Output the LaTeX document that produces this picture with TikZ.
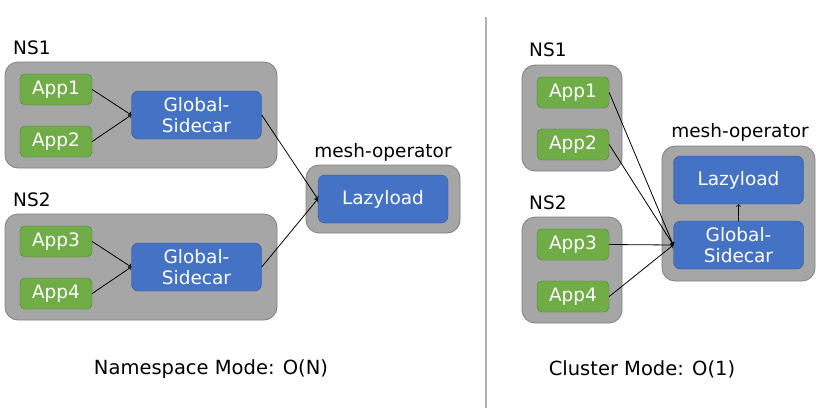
\documentclass[tikz,border=0pt]{standalone}
\usepackage{fontspec}
\setmainfont{DejaVu Sans}
\usepackage{xcolor}
\usetikzlibrary{positioning}
\definecolor{nsgray}{HTML}{A6A6A6}
\definecolor{nsedge}{HTML}{7F7F7F}
\definecolor{appgreen}{HTML}{70AD47}
\definecolor{appedge}{HTML}{507E32}
\definecolor{scblue}{HTML}{4472C4}
\definecolor{scedge}{HTML}{2F528F}
\tikzstyle{nsBox} = [rectangle, draw=nsedge, fill=nsgray, rounded corners=13pt, line width=0.8pt]
\tikzstyle{appNode} = [rectangle, draw=appedge, fill=appgreen, rounded corners=5pt, text=white, minimum width=72pt, minimum height=31pt, font=\fontsize{18.5}{21}\selectfont, inner sep=0pt]
\tikzstyle{blueNode} = [rectangle, draw=scedge, fill=scblue, rounded corners=7pt, text=white, minimum width=130pt, minimum height=48pt, font=\fontsize{18.5}{21}\selectfont, inner sep=0pt, align=center]
\tikzstyle{title} = [font=\fontsize{18.5}{21}\selectfont, inner sep=0pt]
\tikzstyle{link} = [->, line width=0.8pt]

\begin{document}
\begin{tikzpicture}[x=1pt,y=-1pt]
    \useasboundingbox (0,0) rectangle (821,413);
    % divider
    \draw[black!30, line width=1.2pt] (486,17) -- (486,408);

    % namespace mode
    \node (lns1) [nsBox, minimum width=272pt, minimum height=106pt] at (141,115) {};
    \node (lns2) [nsBox, minimum width=272pt, minimum height=106pt] at (141,267) {};
    \node (lmesh) [nsBox, minimum width=154pt, minimum height=68pt] at (383,199) {};
    \node [title, anchor=base west] at (13,54) {NS1};
    \node [title, anchor=base west] at (13,206) {NS2};
    \node [title, anchor=base] at (383,157) {mesh-operator};
    \node (lapp1) [appNode] at (56,89.5) {App1};
    \node (lapp2) [appNode] at (56,141.5) {App2};
    \node (lapp3) [appNode] at (56,241.5) {App3};
    \node (lapp4) [appNode] at (56,293.5) {App4};
    \node (lsc1) [blueNode] at (196.5,115) {Global-\\Sidecar};
    \node (lsc2) [blueNode] at (196.5,267) {Global-\\Sidecar};
    \node (llazy) [blueNode] at (383,199) {Lazyload};
    \draw[link] (lapp1.east) -- (lsc1.west);
    \draw[link] (lapp2.east) -- (lsc1.west);
    \draw[link] (lapp3.east) -- (lsc2.west);
    \draw[link] (lapp4.east) -- (lsc2.west);
    \draw[link] (lsc1.east) -- (llazy.west);
    \draw[link] (lsc2.east) -- (llazy.west);
    \node [title, font=\fontsize{19.5}{22}\selectfont] at (211,369) {Namespace Mode: O(N)};

    % cluster mode
    \node (rns1) [nsBox, minimum width=100pt, minimum height=106pt] at (572,118) {};
    \node (rns2) [nsBox, minimum width=100pt, minimum height=106pt] at (572,270) {};
    \node (rmesh) [nsBox, minimum width=153pt, minimum height=135pt] at (738.5,213.5) {};
    \node [title, anchor=base west] at (529,56) {NS1};
    \node [title, anchor=base west] at (529,209) {NS2};
    \node [title, anchor=base] at (740,137) {mesh-operator};
    \node (rapp1) [appNode] at (573,92.5) {App1};
    \node (rapp2) [appNode] at (573,144.5) {App2};
    \node (rapp3) [appNode] at (573,244.5) {App3};
    \node (rapp4) [appNode] at (573,296.5) {App4};
    \node (rlazy) [blueNode] at (738.5,180) {Lazyload};
    \node (rsc) [blueNode] at (738.5,245) {Global-\\Sidecar};
    \draw[link] (rapp1.east) -- (rsc.west);
    \draw[link] (rapp2.east) -- (rsc.west);
    \draw[link] (rapp3.east) -- (rsc.west);
    \draw[link] (rapp4.east) -- (rsc.west);
    \draw[link] (rsc.north) -- (rlazy.south);
    \node [title, font=\fontsize{19.5}{22}\selectfont] at (642,369) {Cluster Mode: O(1)};
\end{tikzpicture}
\end{document}
